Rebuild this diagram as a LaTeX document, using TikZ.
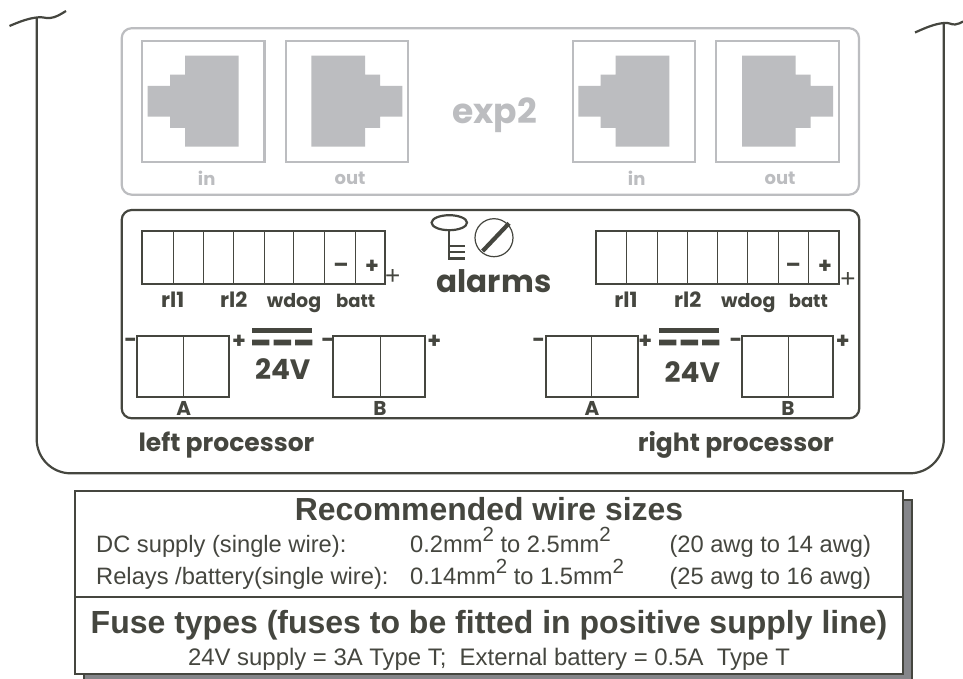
\documentclass[tikz,border=0pt]{standalone}
\usepackage{fontspec}
\setmainfont{Liberation Sans}
\newfontfamily\futfont{Poppins}
\definecolor{ink}{HTML}{45463F}
\definecolor{pale}{HTML}{BCBDC0}
\definecolor{shadowgrey}{HTML}{85868A}
\newcommand{\fsz}[1]{\fontsize{#1}{#1}\selectfont}
\newcommand{\up}[1]{\raisebox{11pt}{\fsz{20.5}#1}}
\tikzset{
  heavy/.style={draw=ink,line width=2.2pt},
  divline/.style={draw=ink,line width=1pt},
  paleline/.style={draw=pale,line width=2.2pt},
  jack/.style={fill=pale,draw=none},
  fut/.style={inner sep=0pt,text=ink,font=\futfont\bfseries\fsz{#1}},
  futp/.style={inner sep=0pt,text=pale,font=\futfont\bfseries\fsz{#1}},
  arial/.style={inner sep=0pt,text=ink,anchor=base west,font=\fsz{#1}},
  arialc/.style={inner sep=0pt,text=ink,anchor=base,font=\fsz{#1}},
  arialb/.style={inner sep=0pt,text=ink,anchor=base,font=\bfseries\fsz{#1}},
}
\begin{document}
\begin{tikzpicture}[x=1pt,y=-1pt]
\useasboundingbox (0,0) rectangle (963,679);
\clip (0,0) rectangle (963,679);
\fill[white] (0,0) rectangle (963,679);
% enclosure
\draw[heavy,rounded corners=34pt] (36.7,17.5) -- (36.7,473.3) -- (943.8,473.3) -- (943.8,22.7);
\draw[heavy] (9.5,26) .. controls (20,21.5) and (28,18.5) .. (36.7,17.5) .. controls (44,16.5) and (44,18.5) .. (50,18) .. controls (56,17.5) and (61,14) .. (66,11);
\draw[heavy] (915,32.5) .. controls (925,28) and (934,24) .. (943.8,23) .. controls (950,22.5) and (950,24.5) .. (955,24.5) .. controls (958,24.5) and (961,22.5) .. (963,21.5);
% exp2 panel
\draw[paleline,rounded corners=10pt] (121.7,28.2) rectangle (859,194.7);
\foreach \bx in {142,285.7,572.7,716.3}{
  \draw[paleline] (\bx,40.8) rectangle +(122.4,121.5);
}
\foreach \ox in {142,572.7}{
  \fill[jack,shift={(\ox,0)}] (5.7,86) -- (28,86) -- (28,74.7) -- (43,74.7) -- (43,55.7) -- (96.7,55.7) -- (96.7,146.7) -- (43,146.7) -- (43,128) -- (28,128) -- (28,116.7) -- (5.7,116.7) -- cycle;
}
\foreach \ox in {408.1,838.7}{
  \fill[jack,shift={(\ox,0)}] (-5.7,86) -- (-28,86) -- (-28,74.7) -- (-43,74.7) -- (-43,55.7) -- (-96.7,55.7) -- (-96.7,146.7) -- (-43,146.7) -- (-43,128) -- (-28,128) -- (-28,116.7) -- (-5.7,116.7) -- cycle;
}
\node[futp=18] (in1) at (206.7,178) {in};
\node[futp=18] (out1) at (350,178) {out};
\node[futp=18] (in2) at (636.7,178) {in};
\node[futp=18] (out2) at (780,178) {out};
\node[futp=34.5,anchor=base] (exp) at (494.5,123.3) {exp2};
% processor panel
\draw[heavy,rounded corners=10pt] (121.7,210) rectangle (859.3,418.3);
% alarm strips
\draw[heavy] (142.3,230.7) rectangle (385.3,284.3);
\foreach \d in {173,203.7,233.7,264,293.7,324.7,355}{\draw[divline] (\d,230.7) -- (\d,284.3);}
\draw[heavy] (596,230.7) rectangle (838.7,284.3);
\foreach \d in {626,657,687.3,717.3,747.3,778,808.3}{\draw[divline] (\d,230.7) -- (\d,284.3);}
\node[fut=22] (m1) at (341,268) {–};
\node[fut=22] (p1) at (372,267) {+};
\node[fut=22] (m2) at (793.3,268) {–};
\node[fut=22] (p2) at (825,267) {+};
\node[inner sep=0pt,text=ink,font=\fsz{26}] (t1) at (392.7,277) {+};
\node[inner sep=0pt,text=ink,font=\fsz{26}] (t2) at (848,279.7) {+};
\foreach \n/\xa/\t/\s in {a/172.7/rl1/21,b/233.7/rl2/21,c/294/wdog/19,d/355.7/batt/18,e/626/rl1/21,f/687.7/rl2/21,g/748.3/wdog/19,h/808.3/batt/18}{
  \node[fut=\s,anchor=base] (l\n) at (\xa,307.7) {\t};
}
% key and screw
\draw[heavy] (449.3,222.7) ellipse[x radius=17.7,y radius=7.5];
\draw[heavy] (449.3,230) -- (449.3,259.5) (449.3,245.7) -- (465.3,245.7) (449.3,252) -- (465.3,252) (449.3,258.5) -- (465.3,258.5);
\draw[draw=ink,line width=1.2pt] (494,237.7) circle[radius=19];
\draw[draw=ink,line width=4.2pt] (482.7,251) -- (509,223.3);
\node[fut=31,anchor=base] (alarms) at (494,292.5) {alarms};
% supply terminals
\foreach \xa/\xb/\xc in {137.3/183.3/229.3,333.3/380/425.3,546/591.7/637.7,741.7/788.3/833.3}{
  \draw[heavy] (\xa,336) rectangle (\xc,396.7);
  \draw[divline] (\xb,336) -- (\xb,396.7);
}
\foreach \n/\xa in {a/130.7,b/327.7,c/538.7,d/736}{\node[fut=22] (sm\n) at (\xa,343) {-};}
\foreach \n/\xa in {a/239,b/434.3,c/645.3,d/842.7}{\node[fut=22] (sp\n) at (\xa,341.5) {+};}
\foreach \ox in {252,659}{
  \fill[ink,shift={(\ox,0)}] (0,328) rectangle (60.3,333.3);
  \fill[ink,shift={(\ox,0)}] (0,339.7) rectangle (17.3,345.3) (21.7,339.7) rectangle (39,345.3) (43,339.7) rectangle (60.3,345.3);
}
\node[fut=28] (va) at (282.7,369) {24V};
\node[fut=28] (vb) at (692.3,371.7) {24V};
\node[fut=20,anchor=base] (ta) at (183.7,415) {A};
\node[fut=20,anchor=base] (tb) at (380,415) {B};
\node[fut=20,anchor=base] (tc) at (592,415) {A};
\node[fut=20,anchor=base] (td) at (788,415) {B};
\node[fut=25,anchor=base west] (lp) at (138.3,451) {left processor};
\node[fut=25,anchor=base west] (rp) at (637.7,451) {right processor};
% table
\fill[fill=shadowgrey,draw=ink,line width=2pt] (84,500) rectangle (912,690);
\draw[heavy,fill=white] (75,491) rectangle (902.7,674.3);
\draw[draw=ink,line width=2pt] (75,597) -- (902.7,597);
\node[arialb=31.9] (h1) at (489,520.7) {Recommended wire sizes};
\node[arial=23.7] (r1a) at (96,552.3) {DC supply (single wire):};
\node[arial=23.7] (r1b) at (410,552.3) {0.2mm\up{2} to 2.5mm\up{2}};
\node[arial=23.7] (r1c) at (669.3,552.3) {(20 awg to 14 awg)};
\node[arial=23.7] (r2a) at (96,584.3) {Relays /battery(single wire):};
\node[arial=23.7] (r2b) at (410,584.3) {0.14mm\up{2} to 1.5mm\up{2}};
\node[arial=23.7] (r2c) at (669.3,584.3) {(25 awg to 16 awg)};
\node[arialb=32] (h2) at (489,633.3) {Fuse types (fuses to be fitted in positive supply line)};
\node[arialc=23.9] (f1) at (489,665.7) {24V supply = 3A Type T;\ \ External battery = 0.5A\ \ Type T};
\end{tikzpicture}
\end{document}
